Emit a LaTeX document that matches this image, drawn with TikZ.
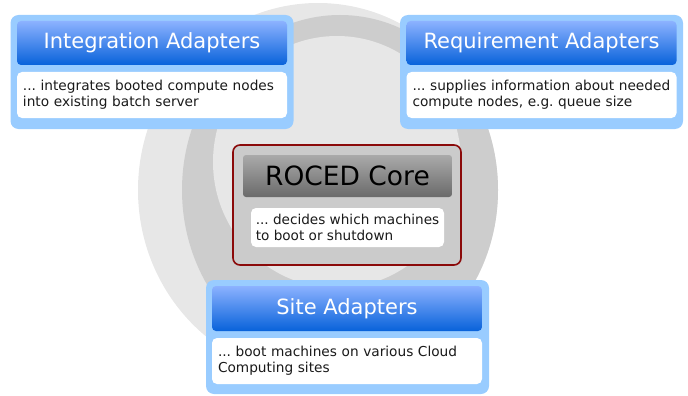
\documentclass[tikz,border=0pt]{standalone}
\usepackage{fontspec}
\setmainfont{DejaVu Sans}
\frenchspacing
\definecolor{bglight}{HTML}{E7E7E7}
\definecolor{bgdark}{HTML}{CDCDCD}
\definecolor{lblue}{HTML}{99CCFF}
\definecolor{htop}{HTML}{8CB2FF}
\definecolor{hbot}{HTML}{0862DA}
\definecolor{ctop}{HTML}{AAAAAA}
\definecolor{cbot}{HTML}{6A6A6A}
\definecolor{cfill}{HTML}{CBCBCB}
\definecolor{cred}{HTML}{8B0A0A}
\definecolor{txt}{HTML}{1A1A1A}
\begin{document}
\begin{tikzpicture}[x=1pt,y=-1pt,
  outerbox/.style={fill=lblue, rounded corners=8pt, draw=none, inner sep=0pt, minimum width=283pt, minimum height=114pt},
  hdr/.style={rounded corners=4pt, top color=htop, bottom color=hbot, text=white, font=\fontsize{21}{25}\selectfont, inner sep=0pt, minimum width=270pt, minimum height=44pt},
  bodybox/.style={fill=white, rounded corners=5pt, inner xsep=6pt, inner ysep=0pt, text width=258pt, minimum height=46pt, align=left, font=\fontsize{13.7}{16}\selectfont, text=txt},
  corebox/.style={fill=cfill, draw=cred, line width=1.6pt, rounded corners=7pt, inner sep=0pt, minimum width=228pt, minimum height=120pt},
  corehdr/.style={rounded corners=3pt, top color=ctop, bottom color=cbot, text=black, font=\fontsize{26.5}{30}\selectfont, inner sep=0pt, minimum width=209pt, minimum height=42pt},
  corebody/.style={fill=white, rounded corners=5pt, inner xsep=4pt, inner ysep=0pt, minimum width=193pt, minimum height=39pt, align=left, font=\fontsize{13.6}{16}\selectfont, text=txt}
]
\useasboundingbox (0,0) rectangle (688,396);
% background swirl
\fill[bglight] (318,190) ellipse[x radius=180pt, y radius=187pt];
\fill[bgdark] (340,190) ellipse[x radius=158pt, y radius=175pt];
\fill[bglight] (337,162) ellipse[x radius=124pt, y radius=126pt];

% Integration Adapters
\node[outerbox] (intO) at (152,72) {};
\node[hdr] (intH) at (152,43) {Integration Adapters};
\node[bodybox] (intB) at (152,95) {... integrates booted compute nodes\\into existing batch server};

% Requirement Adapters
\node[outerbox] (reqO) at (541.5,72) {};
\node[hdr] (reqH) at (541.5,43) {Requirement Adapters};
\node[bodybox] (reqB) at (541.5,95) {... supplies information about needed\\compute nodes, e.g. queue size};

% ROCED Core
\node[corebox] (coreO) at (347,205) {};
\node[corehdr] (coreH) at (347.5,176) {ROCED Core};
\node[corebody] (coreB) at (347.5,227.5) {... decides which machines\\to boot or shutdown};

% Site Adapters
\node[outerbox] (siteO) at (347.5,337) {};
\node[hdr, minimum height=45pt] (siteH) at (347,308.5) {Site Adapters};
\node[bodybox] (siteB) at (347,361) {... boot machines on various Cloud\\Computing sites};
\end{tikzpicture}
\end{document}
